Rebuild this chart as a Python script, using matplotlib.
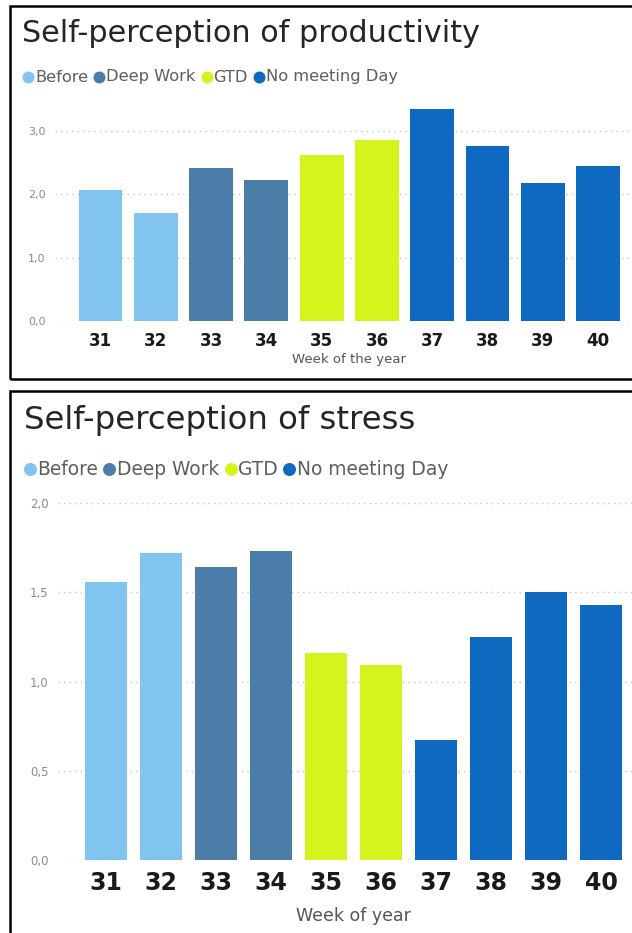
import matplotlib
matplotlib.use("Agg")
import matplotlib.pyplot as plt
from matplotlib.lines import Line2D
from matplotlib.patches import Rectangle
from matplotlib.ticker import FuncFormatter

W, H = 632, 933

weeks = [31, 32, 33, 34, 35, 36, 37, 38, 39, 40]
phases = ["Before", "Before", "Deep Work", "Deep Work", "GTD", "GTD",
          "No meeting Day", "No meeting Day", "No meeting Day", "No meeting Day"]
productivity = [2.06, 1.71, 2.42, 2.23, 2.61, 2.85, 3.35, 2.76, 2.18, 2.45]
stress = [1.56, 1.72, 1.64, 1.73, 1.16, 1.09, 0.67, 1.25, 1.50, 1.43]

legend_names = ["Before", "Deep Work", "GTD", "No meeting Day"]
phase_colors = {"Before": "#80C4EF", "Deep Work": "#4C7DA8",
                "GTD": "#D7F31E", "No meeting Day": "#0F69C1"}

fig = plt.figure(figsize=(W / 100, H / 100), dpi=100)
fig.patch.set_facecolor("white")


def fx(x):
    return x / W


def fy(y):
    return 1 - y / H


def comma(v, _):
    return ("%.1f" % v).replace(".", ",")


def legend(x0, y, size, dot):
    # dot = circle diameter in px; text follows right after it
    r = fig.canvas.get_renderer()
    x = x0
    for name in legend_names:
        fig.add_artist(Line2D([fx(x + dot / 2)], [fy(y)], marker="o", ls="none",
                              markersize=dot * 0.72, color=phase_colors[name],
                              markeredgewidth=0, transform=fig.transFigure))
        t = fig.text(fx(x + dot + 1), fy(y), name, fontsize=size, color="#605E5C",
                     va="center", ha="left")
        x += dot + 1 + t.get_window_extent(r).width + 5


def panel(values, top, zero, ylim, yticks, left, xlim, width, tick_size, tick_pad,
          ylab_size, title, title_x, title_y, title_size, leg_x, leg_y, leg_size, dot,
          xlabel, xlabel_y, xlabel_size):
    ax = fig.add_axes([fx(left), fy(zero), fx(W - left), (zero - top) / H])
    ax.bar(range(len(weeks)), values, width=width,
           color=[phase_colors[p] for p in phases], zorder=3)
    ax.set_xlim(*xlim)
    ax.set_ylim(*ylim)
    ax.set_xticks(range(len(weeks)))
    ax.set_xticklabels([str(w) for w in weeks], fontsize=tick_size, fontweight="bold",
                       color="#1a1a1a")
    ax.set_yticks(yticks)
    ax.yaxis.set_major_formatter(FuncFormatter(comma))
    ax.tick_params(axis="x", length=0, pad=tick_pad)
    ax.tick_params(axis="y", length=0, pad=7, labelsize=ylab_size, labelcolor="#8a8a8a")
    ax.grid(axis="y", color="#c4c4c4", lw=1.0, ls=(0, (1, 3)), zorder=0)
    for s in ax.spines.values():
        s.set_visible(False)
    ax.patch.set_alpha(0)
    fig.text(fx(title_x), fy(title_y), title, fontsize=title_size, color="#252423",
             va="center", ha="left")
    legend(leg_x, leg_y, leg_size, dot)
    # centre the axis title under the middle of the bars
    mid = left + (W - left) * (4.5 - xlim[0]) / (xlim[1] - xlim[0])
    fig.text(fx(mid), fy(xlabel_y), xlabel, fontsize=xlabel_size, color="#555555",
             ha="center", va="center")
    return ax


# productivity panel
panel(productivity, top=99, zero=321, ylim=(0, 3.5), yticks=[0, 1, 2, 3],
      left=55, xlim=(-0.82, 9.61), width=0.79, tick_size=12, tick_pad=8,
      ylab_size=8, title="Self-perception of productivity", title_x=22, title_y=34,
      title_size=21.8, leg_x=22, leg_y=77, leg_size=11.7, dot=12,
      xlabel="Week of the year", xlabel_y=360, xlabel_size=9.5)

# stress panel
panel(stress, top=503, zero=860, ylim=(0, 2.0), yticks=[0, 0.5, 1.0, 1.5, 2.0],
      left=58, xlim=(-0.87, 9.56), width=0.77, tick_size=17, tick_pad=8,
      ylab_size=8.5, title="Self-perception of stress", title_x=24, title_y=420,
      title_size=23.3, leg_x=23, leg_y=469, leg_size=13.4, dot=13,
      xlabel="Week of year", xlabel_y=916, xlabel_size=12.5)

# frames around both visuals
for (x0, y0, x1, y1) in [(10, 6, 645, 379), (10, 391, 645, 945)]:
    fig.add_artist(Rectangle((fx(x0), fy(y1)), fx(x1 - x0), (y1 - y0) / H,
                             transform=fig.transFigure, fill=False, ec="black", lw=1.8))

fig.savefig("out.png", dpi=100, facecolor="white")
